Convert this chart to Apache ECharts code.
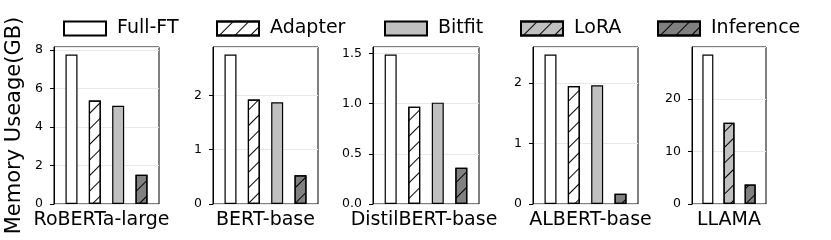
<!DOCTYPE html>
<html>
<head>
<meta charset="utf-8">
<script src="https://cdn.jsdelivr.net/npm/echarts@6/dist/echarts.min.js"></script>
<style>
html,body{margin:0;padding:0;background:#fff;}
#chart{width:831px;height:240px;}
</style>
</head>
<body>
<div id="chart"></div>
<script>
// ---- data ----
const categories = ['RoBERTa-large', 'BERT-base', 'DistilBERT-base', 'ALBERT-base', 'LLAMA'];
const methods = ['Full-FT', 'Adapter', 'Bitfit', 'LoRA', 'Inference'];
const fullFT    = [7.76, 2.75, 1.49, 2.47, 28.5];
const adapter   = [5.37, 1.92, 0.97, 1.95, null];
const bitfit    = [5.10, 1.87, 1.01, 1.96, null];
const lora      = [null, null, null, null, 15.5];
const inference = [1.52, 0.53, 0.36, 0.17, 3.7];
const yTickIntervals = [2, 1, 0.5, 1, 10];
const yTickDecimals = [0, 0, 1, 0, 0];
const yTitle = 'Memory Useage(GB)';

// ---- layout / style ----
const FONT = 'DejaVu Sans';
const gridLefts = [54, 213, 373, 533, 692];
const gridWidths = [105, 105, 106, 105, 74];
const labelShift = [-5, 0, -2, 5, 0];
const hatch = {symbol: 'rect', symbolSize: 1, dashArrayX: [1, 0], dashArrayY: [1, 10], rotation: -Math.PI / 4, color: '#000'};
const methodStyle = {
  'Full-FT':   {color: '#ffffff'},
  'Adapter':   {color: '#ffffff', decal: hatch},
  'Bitfit':    {color: '#c0c0c0'},
  'LoRA':      {color: '#c0c0c0', decal: hatch},
  'Inference': {color: '#808080', decal: hatch}
};
const valuesByMethod = {'Full-FT': fullFT, 'Adapter': adapter, 'Bitfit': bitfit, 'LoRA': lora, 'Inference': inference};

const grids = [], xAxes = [], yAxes = [], series = [];
categories.forEach((cat, i) => {
  const present = methods.filter(m => valuesByMethod[m][i] != null);
  const vals = present.map(m => valuesByMethod[m][i]);
  const n = present.length;
  grids.push({left: gridLefts[i], width: gridWidths[i], top: 47, height: 157, show: true, borderColor: '#000', borderWidth: 1, containLabel: false});
  xAxes.push({
    type: 'value', gridIndex: i, min: -0.75, max: n - 0.25,
    axisLine: {show: false, onZero: false}, axisTick: {show: false}, axisLabel: {show: false}, splitLine: {show: false},
    name: cat, nameLocation: 'middle', nameGap: 7,
    nameTextStyle: {fontFamily: FONT, fontSize: 19, color: '#000', padding: labelShift[i] >= 0 ? [0, 0, 0, 2 * labelShift[i]] : [0, -2 * labelShift[i], 0, 0]}
  });
  const iv = yTickIntervals[i];
  yAxes.push({
    type: 'value', gridIndex: i, min: 0, max: Math.max(...vals) * 1.05, interval: iv,
    axisLine: {show: true, onZero: false, lineStyle: {color: '#000', width: 1}},
    axisTick: {show: true, length: 4, lineStyle: {color: '#000', width: 1}},
    axisLabel: {fontFamily: FONT, fontSize: 12.5, color: '#000', margin: 11, showMaxLabel: false,
      formatter: v => Number(v).toFixed(yTickDecimals[i])},
    splitLine: {show: true, lineStyle: {color: '#e8e8e8', width: 1}},
    name: i === 0 ? yTitle : '', nameLocation: 'middle', nameGap: 29, nameRotate: 90,
    nameTextStyle: {fontFamily: FONT, fontSize: 21, color: '#000'}
  });
  present.forEach((m, k) => {
    series.push({
      type: 'bar', name: m, xAxisIndex: i, yAxisIndex: i,
      barWidth: i === 4 ? 11 : 12, barGap: '-100%',
      itemStyle: Object.assign({borderColor: '#000', borderWidth: 1.2}, methodStyle[m]),
      emphasis: {disabled: true},
      data: [[k, valuesByMethod[m][i]]]
    });
  });
});

const legendLefts = [63, 216, 384, 520, 657];
const legends = methods.map((m, j) => ({
  data: [m], left: legendLefts[j], top: 19, padding: 0,
  itemWidth: 42, itemHeight: 14, icon: 'rect', selectedMode: false,
  textStyle: {fontFamily: FONT, fontSize: 19, color: '#000', padding: [0, 0, 0, 6]}
}));

const chart = echarts.init(document.getElementById('chart'), null, {renderer: 'canvas'});
chart.setOption({
  animation: false,
  backgroundColor: '#fff',
  legend: legends,
  grid: grids,
  xAxis: xAxes,
  yAxis: yAxes,
  series: series
});
</script>
</body>
</html>
